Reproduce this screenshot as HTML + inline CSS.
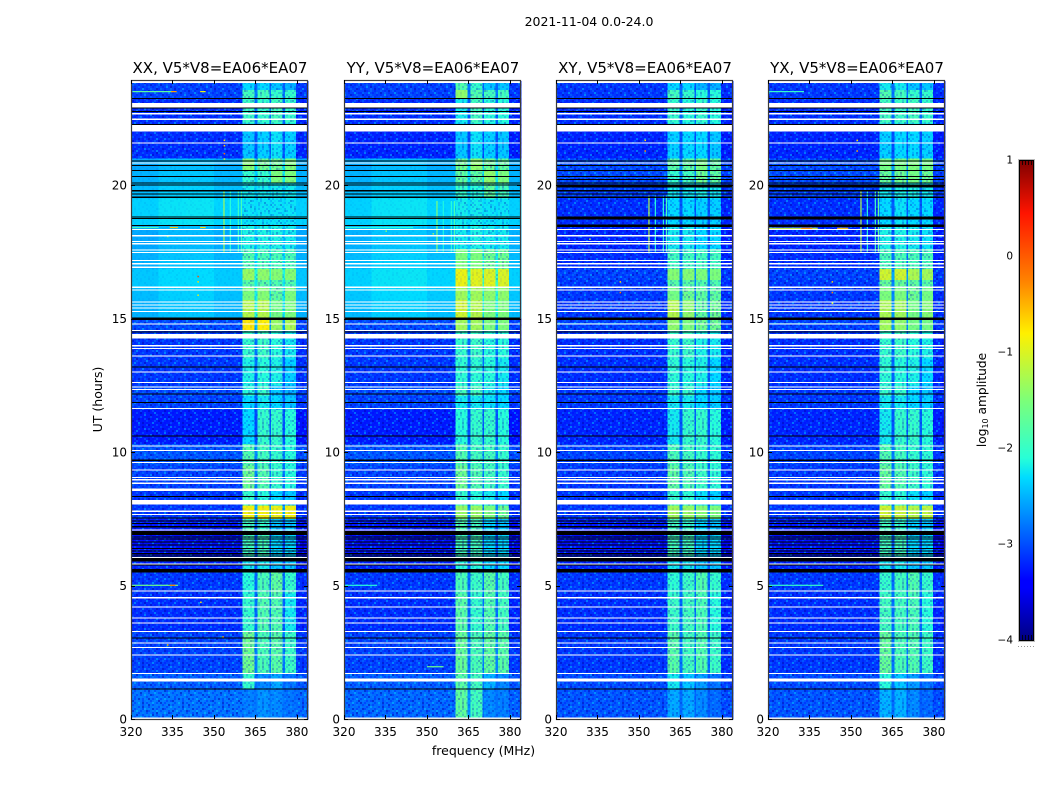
<!DOCTYPE html>
<html lang="en">
<head>
<meta charset="utf-8">
<title>2021-11-04 0.0-24.0</title>
<style>
html,body{margin:0;padding:0;background:#fff;}
svg{display:block;}
text{font-family:"DejaVu Sans","Liberation Sans",sans-serif;fill:#000;}
</style>
</head>
<body>
<svg id="chart" xmlns="http://www.w3.org/2000/svg" width="1050" height="800" viewBox="0 0 1050 800">
  <text x="589" y="26" font-size="12.5" text-anchor="middle">2021-11-04 0.0-24.0</text>
  <text x="483.5" y="755" font-size="12.5" text-anchor="middle">frequency (MHz)</text>
  <text x="102" y="399.5" font-size="12.5" text-anchor="middle" transform="rotate(-90 102 399.5)">UT (hours)</text>
  <text x="986" y="400" font-size="12.2" text-anchor="middle" transform="rotate(-90 986 400)">log<tspan font-size="8" dy="2">10</tspan><tspan dy="-2"> amplitude</tspan></text>
  <defs id="defs"></defs>
  <g id="panels"></g>
  <g id="colorbar"></g>
</svg>
<script>
// ---------- chart data (log10 amplitude unless noted) ----------
const panelNames = ["XX", "YY", "XY", "YX"];
const baselineLabel = "V5*V8=EA06*EA07";
const panelLeft = [131, 344, 556, 768];
const freqTicks = [320, 335, 350, 365, 380];
const utTicks = [0, 5, 10, 15, 20];
const colorTicks = [1, 0, -1, -2, -3, -4];

// frequency blocks (MHz): background, then four sub-bands split by gaps
const bgEdges = [320, 330, 340, 350, 360.4];
const bgTilt = [-0.05, 0.04, 0.05, -0.03];
const bandEdges = [[360.4, 364.7], [365.7, 370.0], [370.6, 374.8], [375.6, 379.6]];
const gapEdges = [[364.7, 365.7], [370.0, 370.6], [374.8, 375.6]];
const topEdge = [379.6, 384];

// UT row edges, high to low
const rowEdges = [23.9, 23.55, 23.25, 22.3, 21.0, 20.55, 20.1, 19.5, 18.5, 17.6, 16.85, 16.45, 16.15, 15.7, 15.0, 14.55, 13.5, 12.5, 12.1, 11.6, 10.3, 9.5, 8.6, 8.0, 7.5, 7.1, 6.1, 5.5, 4.7, 3.3, 1.7, 1.13, 0];

// each row: background, band1, band2, band3, band4
const xxLevels = [
[-3.05,-2.3,-2.3,-2.4,-2.5],[-3.05,-1.9,-1.9,-2,-2],[-3.15,-1.95,-2,-1.9,-2],[-3.15,-2.4,-2.35,-2.25,-2.35],
[-2.5,-1.45,-1.6,-1.6,-1.5],[-2.45,-2,-2,-1.5,-1.5],[-2.4,-2.2,-2.2,-2.2,-2.2],[-2.3,-2.25,-2.25,-2.25,-2.25],
[-2.5,-2.15,-2.15,-2.15,-2.2],[-2.45,-1.8,-1.85,-1.85,-1.85],[-2.35,-1.35,-1.4,-1.45,-1.45],[-2.35,-1.75,-1.75,-1.8,-1.8],
[-2.4,-1.5,-1.45,-1.7,-1.5],[-2.45,-1.2,-1.2,-1.55,-1.5],[-3,-0.75,-0.8,-1.35,-1.25],[-3.1,-2,-1.95,-2.1,-2.2],
[-3.1,-2.15,-2.1,-2.15,-2.35],[-3,-2.1,-2,-2.4,-2.5],[-3.05,-2.3,-2.2,-2.3,-2.4],[-3.25,-2.3,-2,-2,-2.1],
[-2.95,-1.8,-1.9,-2,-2.1],[-3.05,-1.6,-1.8,-2,-2.1],[-3.1,-2,-2.1,-2.3,-2.4],[-3.1,-0.85,-0.85,-0.9,-0.85],
[-3.25,-1.9,-2,-2.4,-2.4],[-3.3,-1.9,-1.9,-2.3,-2.3],[-3.2,-2.2,-2.2,-2.4,-2.4],[-3.1,-2.1,-1.85,-1.7,-2],
[-3.15,-2,-1.8,-1.8,-2.2],[-3.05,-1.6,-1.85,-1.75,-1.95],[-2.9,-2,-2.7,-2.55,-2.8],[-2.8,-2.75,-2.65,-2.7,-2.8]];

const yyLevels = [
[-3.05,-1.8,-2,-2.4,-2.4],[-3.05,-1.4,-1.8,-1.9,-1.9],[-3.15,-2.2,-1.9,-2.1,-2.1],[-3.2,-2.4,-2.25,-2.35,-2.4],
[-2.5,-1.6,-1.4,-1.6,-1.7],[-2.45,-1.7,-1.7,-1.4,-1.5],[-2.4,-2,-2.1,-1.7,-1.9],[-2.3,-2.2,-2.2,-2.25,-2.25],
[-2.45,-2.2,-2.15,-2.2,-2.2],[-2.4,-1.5,-1.5,-1.6,-1.6],[-2.3,-0.9,-0.95,-1,-1],[-2.3,-0.9,-0.95,-0.95,-1],
[-2.35,-1.3,-1.3,-1.4,-1.4],[-2.4,-1.05,-1.2,-1.5,-1.5],[-3,-1.3,-1.3,-1.5,-1.5],[-3.1,-2,-1.95,-2.1,-2.1],
[-3.1,-2.05,-2.05,-2.1,-2.2],[-3,-1.9,-1.9,-2.2,-2.3],[-3.05,-2.2,-2.2,-2.25,-2.3],[-3.25,-2.1,-2,-2,-2.1],
[-2.95,-1.8,-1.9,-1.9,-2],[-3.05,-1.6,-1.8,-1.9,-2],[-3.1,-2,-2.1,-2.2,-2.3],[-3.1,-1.35,-1.35,-1.5,-1.6],
[-3.25,-1.8,-1.9,-2.3,-2.4],[-3.3,-1.9,-1.9,-2.3,-2.3],[-3.2,-2.1,-2.1,-2.3,-2.3],[-3.1,-1.85,-1.95,-1.75,-1.9],
[-3.15,-1.75,-2,-1.8,-1.9],[-3.05,-1.65,-1.85,-1.7,-1.75],[-2.9,-1.75,-1.9,-2.5,-2.7],[-2.85,-1.7,-1.9,-2.7,-2.75]];

const xyLevels = [
[-3.1,-2.3,-2.3,-2.5,-2.5],[-3.1,-1.9,-2,-2.1,-2.1],[-3.15,-2,-2.1,-2,-2.1],[-3.2,-2.35,-2.3,-2.3,-2.4],
[-3,-1.75,-1.7,-1.55,-1.7],[-3,-2,-1.9,-1.6,-1.7],[-3.05,-2.2,-2.2,-2.15,-2.2],[-3.15,-2.3,-2.3,-2.35,-2.35],
[-3.2,-2.2,-2.2,-2.3,-2.3],[-3.15,-1.9,-1.9,-1.9,-1.9],[-3.05,-1.45,-1.45,-1.5,-1.5],[-3.1,-1.75,-1.75,-1.8,-1.8],
[-3.1,-1.55,-1.6,-1.7,-1.7],[-3.1,-1.2,-1.4,-1.7,-1.6],[-3.05,-1.4,-1.5,-1.6,-1.6],[-3.15,-2,-1.95,-2.15,-2.2],
[-3.15,-2.05,-2.1,-2.15,-2.3],[-3.1,-2,-2,-2.3,-2.4],[-3.1,-2.2,-2.2,-2.3,-2.35],[-3.2,-2.2,-2,-2,-2.1],
[-3.05,-1.85,-1.9,-2,-2.05],[-3.1,-1.7,-1.8,-1.95,-2.05],[-3.1,-2,-2.05,-2.25,-2.35],[-3.1,-1.3,-1.35,-1.45,-1.5],
[-3.25,-1.9,-2,-2.3,-2.4],[-3.3,-1.9,-1.9,-2.3,-2.3],[-3.2,-2.2,-2.2,-2.4,-2.4],[-3.1,-2.05,-1.95,-1.8,-2],
[-3.15,-1.95,-1.9,-1.85,-2.1],[-3.1,-1.75,-1.9,-1.8,-1.95],[-3,-2.2,-2.4,-2.6,-2.8],[-2.95,-2.55,-2.55,-2.7,-2.85]];

const yxLevels = [
[-3.1,-2.2,-2.2,-2.4,-2.4],[-3.1,-1.8,-1.9,-2,-2],[-3.15,-1.9,-1.95,-1.9,-2],[-3.2,-2.35,-2.3,-2.3,-2.35],
[-3,-1.55,-1.55,-1.5,-1.55],[-3,-1.65,-1.6,-1.55,-1.6],[-3.05,-2.2,-2.15,-2.15,-2.2],[-3.15,-2.3,-2.25,-2.3,-2.3],
[-3.2,-2.15,-2.15,-2.2,-2.25],[-3.15,-1.85,-1.85,-1.85,-1.85],[-3.05,-1.05,-1.05,-1.25,-1.3],[-3.1,-1.65,-1.65,-1.7,-1.75],
[-3.1,-1.5,-1.5,-1.6,-1.55],[-3.1,-1.25,-1.3,-1.55,-1.45],[-3.05,-1.3,-1.4,-1.55,-1.55],[-3.15,-2,-1.95,-2.1,-2.15],
[-3.15,-2.05,-2.1,-2.15,-2.3],[-3.1,-2,-2,-2.3,-2.4],[-3.1,-2.2,-2.2,-2.3,-2.35],[-3.2,-2.2,-2,-2,-2.1],
[-3.05,-1.8,-1.9,-2,-2.05],[-3.1,-1.65,-1.8,-1.95,-2.05],[-3.1,-2,-2.05,-2.25,-2.35],[-3.1,-1.05,-1.1,-1.2,-1.15],
[-3.25,-1.9,-2,-2.3,-2.4],[-3.3,-1.9,-1.9,-2.3,-2.3],[-3.2,-2.2,-2.2,-2.4,-2.4],[-3.1,-2,-1.9,-1.8,-2],
[-3.15,-1.9,-1.9,-1.85,-2.1],[-3.1,-1.65,-1.85,-1.8,-1.95],[-3,-2.1,-2.4,-2.6,-2.8],[-2.95,-2.5,-2.5,-2.7,-2.85]];

const panelLevels = [xxLevels, yyLevels, xyLevels, yxLevels];

// flagged (white) UT intervals: [top, bottom]
const flaggedUT = [[23.08,22.91],[22.69,22.65],[22.49,22.43],[22.26,22.0],[21.6,21.56],[20.84,20.8],[18.35,18.31],[18.12,18.08],[17.91,17.87],[17.82,17.78],[17.59,17.55],[17.49,17.45],[17.19,17.15],[17.07,17.03],[16.94,16.9],[16.19,16.15],[16.09,16.05],[15.64,15.6],[15.53,15.49],[15.42,15.38],[15.29,15.25],[14.82,14.78],[14.57,14.53],[14.42,14.26],[14.0,13.96],[13.9,13.86],[13.62,13.58],[13.02,12.98],[12.63,12.59],[12.45,12.41],[12.36,12.32],[11.65,11.61],[10.25,10.21],[10.07,10.03],[9.63,9.59],[9.35,9.31],[9.07,9.03],[8.98,8.94],[8.85,8.81],[8.63,8.54],[8.36,8.32],[8.21,8.03],[7.8,7.76],[7.68,7.64],[7.1,7.06],[6.06,6.02],[5.83,5.79],[5.62,5.58],[4.82,4.78],[4.56,4.52],[4.22,4.18],[3.81,3.77],[3.61,3.57],[3.3,3.25],[2.87,2.83],[2.7,2.66],[2.42,2.38],[1.73,1.69],[1.52,1.4],[0.05,0.01]];

// zero-amplitude (black) UT intervals: [top, bottom]
const blackUT = [[23.26,23.22],[22.91,22.87],[22.78,22.74],[22.29,22.26],[20.92,20.88],[20.75,20.71],[20.57,20.53],[20.34,20.3],[20.1,20.06],[20.02,19.98],[19.81,19.76],[19.68,19.64],[19.56,19.52],[18.82,18.78],[18.76,18.72],[18.5,18.46],[15.03,14.94],[14.52,14.48],[13.2,13.16],[12.2,12.15],[11.87,11.83],[10.62,10.58],[9.71,9.67],[8.36,8.32],[7.55,7.51],[7.44,7.4],[7.34,7.3],[7.22,7.18],[7.05,6.89],[6.84,6.8],[6.76,6.72],[6.65,6.61],[6.53,6.49],[6.4,6.36],[6.31,6.27],[6.21,6.17],[6.13,6.09],[6.03,5.89],[5.79,5.75],[5.61,5.48],[3.05,3.01],[1.14,1.1]];

// extra dark rows seen only on the cross hands
const crossBlackUT = [[20.22,20.18],[20.0,19.9],[18.82,18.7],[18.52,18.42]];

// vertical RFI lines (MHz), their UT span, and level per panel
const rfiFreqs = [353.4, 355.7, 358.6, 359.7];
const rfiSpanTop = [19.8, 19.4, 19.6, 19.8];
const rfiSpanBottom = [17.5, 17.5, 17.5, 17.5];
const rfiLevels = [[-1.3,-1.5,-1.2,-1.2],[-2.1,-2.15,-2.1,-2.1],[-2,-2.1,-2.1,-1.9],[-1.9,-1.9,-1.9,-1.7]];

// horizontal streaks: [panel, f1, f2, UT, level]
const streaks = [
[0,320.5,335,23.52,-1.7],[0,334.5,336.5,23.52,-0.4],[0,345,347,23.52,-0.9],[0,320,337,5.03,-1.6],[0,334,336,5.03,-0.2],
[0,338,349,14.82,-1.9],[0,334,337,18.43,-0.6],[0,345,347,18.43,-0.7],[0,320,330,18.43,-1.9],
[1,350,356,1.98,-1.6],[1,320,345,18.43,-2.1],[1,320,332,5.03,-2.1],
[3,320,338,18.4,-1.1],[3,332,336,18.4,-0.3],[3,345,349,18.4,-0.6],[3,320,333,23.52,-2.0],[3,320,340,5.03,-2.0],
[2,320,350,14.82,-2.1],[3,320,350,14.82,-2.0]];

// isolated hot pixels: [panel, MHz, UT, level]
const hotPixels = [
[0,353.5,21.7,-0.7],[0,353.5,21.5,-0.6],[0,353.5,21.2,-0.1],[0,353.5,21.0,-1],[0,333,2.8,-0.5],[0,345,4.4,-0.8],[0,353,3.1,-0.5],
[0,344,16.4,-0.7],[0,344,16.6,0.1],[0,344,15.9,-0.9],[0,333,18.1,-1.3],
[2,352,21.7,-0.7],[2,352,21.3,-0.2],[2,343,16.4,-0.7],[2,343,16.0,-0.2],[2,332,18.0,-1.3],
[3,352,21.7,-0.7],[3,352,21.3,-0.2],[3,343,16.4,-0.7],[3,343,16.0,-0.2],[3,343,15.6,-1.0],
[1,335,18.3,-1.5],[1,352,18.2,-1.4],[1,353,14.8,-1.6]];

// jet colormap anchors: [position, r, g, b]
const jetStops = [[0,0,0,128],[0.11,0,0,255],[0.125,0,0,255],[0.34,0,220,255],[0.38,40,255,215],[0.5,124,255,121],[0.64,255,240,0],[0.75,255,130,0],[0.89,255,20,0],[1,128,0,0]];
const colorMin = -4;
const colorMax = 1;

// decorative grain tile, read as texture of the noisy channels
const grainTile = [
"d.l..kd.l.d..w.d.l.d",
".ld.d..w.dl.k..ld..w",
"k..l.dl..d..ld.k.d.l",
".d.w.k.d.l.d..l.d.l.",
"l.d..l.k.d.w.d.l..kd",
"..kd.l.d..l.d.k.ld..",
"dl..w.d.l.k.l.d..w.d",
".k.d.l..d.d.w..kd.l.",
"l.d.k.ld..l..d.l..d.",
"d.w.l..d.k.dl.k.d.w.",
".l.d.dk.l..d.l.d.l.k",
"k.d..l.d.w.k.d..w.d.",
".d.lk.d..l.d.lk.d.l.",
"l..d.w.l.d.k..d.l..d",
".kd.l..d.l.dw.l.k.d.",
"d.l.d.k.w.d..kd.l.w.",
"..w.kd.l.d.l.d..d.kl",
"ld.d..l.k..d.l.wk.d.",
".k.l.d.d.lw.d.d.l..d",
"d.d.w..lk.d.l.k.d.l."];

// ---------- scales ----------
const SVGNS = "http://www.w3.org/2000/svg";
const pxPerMHz = 177 / 64;
const pxPerHour = 26.7;
const panelWidth = 177;
const panelTop = 80;
const panelBottom = 719;
const dataTop = 83;
const grainInk = { d: ["#0000ff", 0.32], k: ["#0000b4", 0.5], l: ["#00a0ff", 0.3], w: ["#00e0ff", 0.42] };

function xScale(panel, mhz) { return panelLeft[panel] + (mhz - 320) * pxPerMHz; }
function yScale(ut) { return panelBottom - ut * pxPerHour; }
function colorNorm(v) { return Math.max(0, Math.min(1, (v - colorMin) / (colorMax - colorMin))); }
function jet(t) {
  for (let i = 1; i < jetStops.length; i++) {
    if (t <= jetStops[i][0]) {
      const a = jetStops[i - 1], b = jetStops[i];
      const k = (t - a[0]) / (b[0] - a[0] || 1);
      return "rgb(" + [1, 2, 3].map(j => Math.round(a[j] + (b[j] - a[j]) * k)).join(",") + ")";
    }
  }
  return "rgb(128,0,0)";
}
function valueColor(v) { return jet(colorNorm(v)); }
function make(tag, attrs, parent) {
  const el = document.createElementNS(SVGNS, tag);
  for (const k in attrs) el.setAttribute(k, attrs[k]);
  parent.appendChild(el);
  return el;
}

// ---------- grain pattern ----------
const defs = document.getElementById("defs");
const pattern = make("pattern", { id: "grain", patternUnits: "userSpaceOnUse", width: 40, height: 40 }, defs);
grainTile.forEach((line, r) => {
  for (let c = 0; c < line.length; c++) {
    const g = grainInk[line[c]];
    if (g) make("rect", { x: c * 2, y: r * 2, width: 2, height: 2, fill: g[0], "fill-opacity": g[1] }, pattern);
  }
});

// ---------- panels ----------
const panelsRoot = document.getElementById("panels");

function drawCell(g, panel, f1, f2, top, bottom, v, grainStrength) {
  const x = xScale(panel, f1), w = xScale(panel, f2) - x;
  const y = yScale(top), h = yScale(bottom) - y;
  const cell = make("rect", { x: x, y: y, width: w + 0.3, height: h + 0.3, fill: valueColor(v), "shape-rendering": "crispEdges" }, g);
  
  
  const grain = make("rect", { x: x, y: y, width: w + 0.3, height: h + 0.3, fill: "url(#grain)", opacity: grainStrength, "shape-rendering": "crispEdges" }, g);
  
  
}

function drawHLine(g, panel, top, bottom, color, name) {
  const y = yScale(top);
  const h = Math.max(1.1, yScale(bottom) - y);
  const line = make("rect", { x: panelLeft[panel], y: y, width: panelWidth, height: h, fill: color, "shape-rendering": "crispEdges" }, g);
  
  
}

panelNames.forEach((label, p) => {
  const g = make("g", {}, panelsRoot);
  
  
  const levels = panelLevels[p];

  levels.forEach((row, r) => {
    const top = rowEdges[r], bottom = rowEdges[r + 1];
    const bg = row[0];
    const smooth = bg > -2.75 ? 0.12 : 1;
    for (let i = 0; i < bgTilt.length; i++) {
      const v = bg > -2.75 ? bg + bgTilt[i] : bg;
      drawCell(g, p, bgEdges[i], bgEdges[i + 1], top, bottom, v, smooth);
    }
    bandEdges.forEach((edge, b) => {
      drawCell(g, p, edge[0], edge[1], top, bottom, row[b + 1], row[b + 1] > -1.6 ? 0.2 : 0.6);
    });
    gapEdges.forEach((edge, b) => {
      const near = Math.min(row[b + 1], row[b + 2]);
      drawCell(g, p, edge[0], edge[1], top, bottom, bg + 0.25 * (near - bg), 0.4);
    });
    drawCell(g, p, topEdge[0], topEdge[1], top, bottom, bg - 0.05, smooth);
  });

  rfiFreqs.forEach((f, i) => {
    const x = xScale(p, f);
    const y = yScale(rfiSpanTop[p]);
    const rfi = make("rect", { x: x, y: y, width: 1.2, height: yScale(rfiSpanBottom[p]) - y, fill: valueColor(rfiLevels[i][p]) }, g);
    
    
  });

  streaks.filter(s => s[0] === p).forEach(s => {
    const x = xScale(p, s[1]);
    const st = make("rect", { x: x, y: yScale(s[3]), width: xScale(p, s[2]) - x, height: 1.2, fill: valueColor(s[4]) }, g);
    
    
  });

  hotPixels.filter(s => s[0] === p).forEach(s => {
    const hot = make("rect", { x: xScale(p, s[1]), y: yScale(s[2]), width: 1.5, height: 1.5, fill: valueColor(s[3]) }, g);
    
    
  });

  flaggedUT.forEach(u => drawHLine(g, p, u[0], u[1], "#fff", "flagged-row"));
  blackUT.forEach(u => drawHLine(g, p, u[0], u[1], "#000", "zero-row"));
  if (p >= 2) crossBlackUT.forEach(u => drawHLine(g, p, u[0], u[1], "#000", "zero-row"));

  // top strip above the first sample
  const strip = make("rect", { x: panelLeft[p], y: panelTop, width: panelWidth, height: dataTop - panelTop, fill: "#fff" }, g);
  
  

  // frame
  const L = panelLeft[p];
  const frame = make("rect", { x: L + 0.5, y: panelTop + 0.5, width: panelWidth - 1, height: panelBottom - panelTop, fill: "none", stroke: "#3a3a3a", "stroke-width": 1.2 }, g);
  
  

  // x ticks
  freqTicks.forEach(f => {
    const x = Math.round(xScale(p, f)) + 0.5;
    const t1 = make("line", { x1: x, x2: x, y1: panelBottom, y2: panelBottom - 4, stroke: "#000", "stroke-width": 1 }, g);
    
    
    const t2 = make("line", { x1: x, x2: x, y1: panelTop, y2: panelTop + 4, stroke: "#000", "stroke-width": 1 }, g);
    
    
    const lab = make("text", { x: xScale(p, f), y: 736, "font-size": 12, "text-anchor": "middle" }, g);
    lab.textContent = String(f);
    
    
  });

  // y ticks
  utTicks.forEach(u => {
    const y = Math.round(yScale(u)) + 0.5;
    const t1 = make("line", { x1: L, x2: L + 4, y1: y, y2: y, stroke: "#000", "stroke-width": 1 }, g);
    
    
    const t2 = make("line", { x1: L + panelWidth, x2: L + panelWidth - 4, y1: y, y2: y, stroke: "#000", "stroke-width": 1 }, g);
    
    
    const lab = make("text", { x: L - 4, y: yScale(u) + 4.5, "font-size": 12, "text-anchor": "end" }, g);
    lab.textContent = String(u);
    
    
  });

  const title = make("text", { x: L + panelWidth / 2 + 0.5, y: 73, "font-size": 15, "text-anchor": "middle" }, g);
  title.textContent = label + ", " + baselineLabel;
  
  
});

// ---------- colorbar ----------
const cb = document.getElementById("colorbar");
const cbLeft = 1019, cbRight = 1034, cbTop = 160, cbBottom = 640;
function cbY(v) { return cbBottom - (v - colorMin) / (colorMax - colorMin) * (cbBottom - cbTop); }
const grad = make("linearGradient", { id: "jetGradient", x1: 0, y1: 1, x2: 0, y2: 0 }, defs);
jetStops.forEach(s => {
  make("stop", { offset: s[0], "stop-color": "rgb(" + s[1] + "," + s[2] + "," + s[3] + ")" }, grad);
});
const cbRect = make("rect", { x: cbLeft + 0.5, y: cbTop + 0.5, width: cbRight - cbLeft - 1, height: cbBottom - cbTop, fill: "url(#jetGradient)", stroke: "#000", "stroke-width": 1 }, cb);


const cbOutline = make("rect", { x: cbLeft - 0.5, y: cbTop - 0.5, width: cbRight - cbLeft + 1, height: cbBottom - cbTop + 2, fill: "none", stroke: "#bbb", "stroke-width": 1 }, cb);


colorTicks.forEach(v => {
  const lab = make("text", { x: 1013, y: cbY(v) + 3.5, "font-size": 10.5, "text-anchor": "end" }, cb);
  lab.textContent = (v < 0 ? "\u2212" + (-v) : String(v));
  
  
});
[1022.5, 1025.5, 1028.5, 1031.5].forEach(x => {
  const a = make("line", { x1: x, x2: x, y1: cbTop, y2: cbTop + 5, stroke: "#000", "stroke-width": 0.8 }, cb);
  
  
  const b = make("line", { x1: x, x2: x, y1: cbBottom, y2: cbBottom - 5, stroke: "#000", "stroke-width": 0.8 }, cb);
  
  
});
[1018, 1021, 1024, 1027, 1030, 1033].forEach(x => {
  const dot = make("rect", { x: x, y: 646, width: 1, height: 1, fill: "#999" }, cb);
  
  
});
</script>
</body>
</html>
